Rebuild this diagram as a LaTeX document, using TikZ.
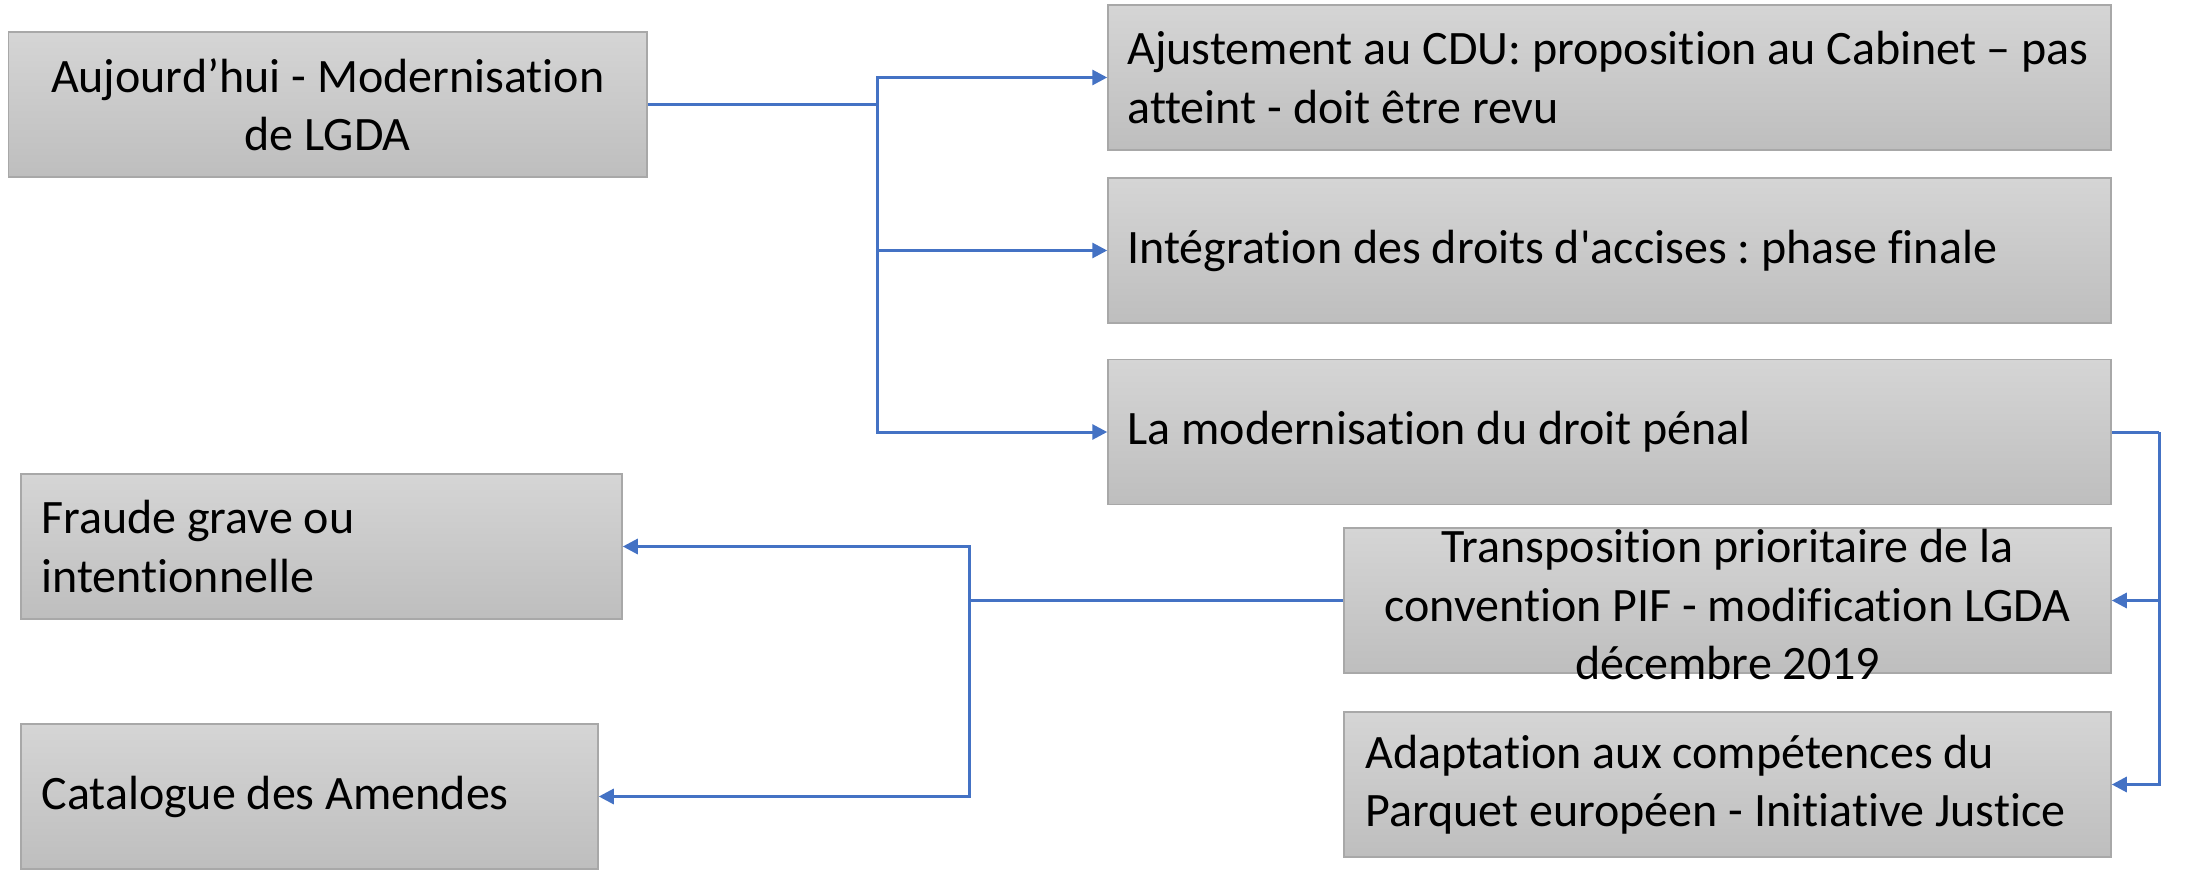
\documentclass[tikz,border=0pt]{standalone}
\usepackage{fontspec}
\setmainfont[Ligatures={NoCommon,NoContextual}]{Carlito}
\frenchspacing
\usetikzlibrary{arrows.meta}
\definecolor{linkblue}{RGB}{68,114,196}
\definecolor{boxtop}{RGB}{213,213,213}
\definecolor{boxbot}{RGB}{190,190,190}
\definecolor{boxline}{RGB}{168,168,168}
\begin{document}
\begin{tikzpicture}[x=1pt,y=1pt,
  box/.style={draw=boxline, line width=1.5pt, top color=boxtop, bottom color=boxbot,
    rectangle, inner sep=0pt, minimum height=145pt},
  lefttext/.style={align=left, inner sep=0pt, font=\frenchspacing\fontsize{48}{58.5}\selectfont},
  centertext/.style={align=center, inner sep=0pt, font=\frenchspacing\fontsize{48}{58.5}\selectfont},
  link/.style={draw=linkblue, line width=3pt},
  arrowlink/.style={link, -{Triangle[length=15pt,width=15pt]}}]
\useasboundingbox (0,0) rectangle (2185,-872);
% boxes
\node[box, minimum width=638.5pt] (b1) at (327.75,-104.5) {};
\node[centertext] (t1) at (b1.center) {Aujourd’hui - Modernisation\\de LGDA};
\node[box, minimum width=1003pt] (b2) at (1609.5,-77.5) {};
\node[lefttext, anchor=west] (t2) at ([xshift=20pt]b2.west) {Ajustement au CDU: proposition au Cabinet – pas\\atteint - doit être revu};
\node[box, minimum width=1003pt] (b3) at (1609.5,-250.5) {};
\node[lefttext, anchor=west] (t3) at ([xshift=20pt]b3.west) {Intégration des droits d\textquotesingle accises : phase finale};
\node[box, minimum width=1003pt] (b4) at (1609.5,-432) {};
\node[lefttext, anchor=west] (t4) at ([xshift=20pt]b4.west) {La modernisation du droit pénal};
\node[box, minimum width=767pt] (b5) at (1727.5,-600.5) {};
\node[centertext] (t5) at ([yshift=-4pt]b5.center) {Transposition prioritaire de la\\convention PIF - modification LGDA\\décembre 2019};
\node[box, minimum width=767pt] (b6) at (1727.5,-784.5) {};
\node[lefttext, anchor=west] (t6) at ([xshift=22pt]b6.west) {Adaptation aux compétences du\\Parquet européen - Initiative Justice};
\node[box, minimum width=601pt] (b7) at (321.5,-546.5) {};
\node[lefttext, anchor=west] (t7) at ([xshift=21pt]b7.west) {Fraude grave ou\\intentionnelle};
\node[box, minimum width=577pt] (b8) at (309.5,-796.5) {};
\node[lefttext, anchor=west] (t8) at ([xshift=21pt]b8.west) {Catalogue des Amendes};
% junctions
\coordinate (j1) at (877,-104.5);
\coordinate (j2) at (2159,-432);
\coordinate (j3) at (969,-600.5);
% connectors
\draw[link] (b1.east) -- (j1);
\draw[arrowlink] (j1) |- (b2.west);
\draw[arrowlink] (j1) |- (b3.west);
\draw[arrowlink] (j1) |- (b4.west);
\draw[link] (b4.east) -- (j2);
\draw[arrowlink] (j2) |- (b5.east);
\draw[arrowlink] (j2) |- (b6.east);
\draw[link] (b5.west) -- (j3);
\draw[arrowlink] (j3) |- (b7.east);
\draw[arrowlink] (j3) |- (b8.east);
\end{tikzpicture}
\end{document}
